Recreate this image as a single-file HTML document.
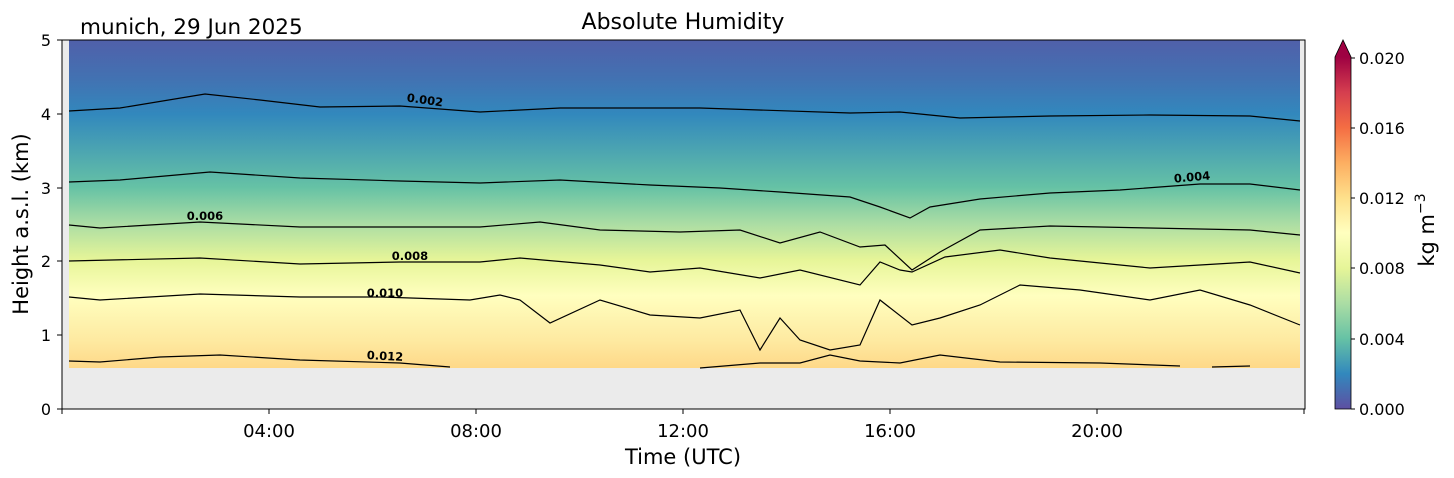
<!DOCTYPE html>
<html><head><meta charset="utf-8"><style>body{margin:0;background:#fff}svg{display:block;font-family:"DejaVu Sans","Liberation Sans",sans-serif}</style></head><body>
<svg width="1454" height="478" xmlns="http://www.w3.org/2000/svg">
<defs>
<linearGradient id="g" x1="0" y1="40" x2="0" y2="368" gradientUnits="userSpaceOnUse">
<stop offset="0" stop-color="#5060aa"/>
<stop offset="0.12" stop-color="#4272b2"/>
<stop offset="0.226" stop-color="#3288bd"/>
<stop offset="0.45" stop-color="#66c2a5"/>
<stop offset="0.56" stop-color="#abdda4"/>
<stop offset="0.67" stop-color="#e6f598"/>
<stop offset="0.78" stop-color="#ffffbf"/>
<stop offset="0.92" stop-color="#fee9a0"/>
<stop offset="1" stop-color="#fed888"/>
</linearGradient>
<linearGradient id="cb" x1="0" y1="409" x2="0" y2="57" gradientUnits="userSpaceOnUse">
<stop offset="0" stop-color="#5e4fa2"/><stop offset="0.1" stop-color="#3288bd"/><stop offset="0.2" stop-color="#66c2a5"/><stop offset="0.3" stop-color="#abdda4"/><stop offset="0.4" stop-color="#e6f598"/><stop offset="0.5" stop-color="#ffffbf"/><stop offset="0.6" stop-color="#fee08b"/><stop offset="0.7" stop-color="#fdae61"/><stop offset="0.8" stop-color="#f46d43"/><stop offset="0.9" stop-color="#d53e4f"/><stop offset="1" stop-color="#9e0142"/>
</linearGradient>
</defs>
<text x="683" y="29" font-size="22" text-anchor="middle">Absolute Humidity</text>
<text x="80" y="34" font-size="21.5">munich, 29 Jun 2025</text>
<rect x="62" y="40" width="1243" height="369" fill="#ebebeb"/>
<rect x="69" y="40" width="1231" height="328" fill="url(#g)"/>
<g fill="none" stroke="#000" stroke-width="1.2">
<polyline points="69,111 120,108 205,94 260,100 320,107 400,106 480,112 560,108 700,108 850,113 900,112 960,118 1050,116 1150,115 1250,116 1300,121"/>
<polyline points="69,182 120,180 210,172 300,178 400,181 480,183 560,180 650,185 720,188 780,192 850,197 880,207 910,218 930,207 980,199 1050,193 1120,190 1200,184 1250,184 1300,190"/>
<polyline points="69,225 100,228 200,222 300,227 400,227 480,227 540,222 600,230 680,232 740,230 780,243 820,232 860,247 885,245 912,270 940,252 980,230 1050,226 1150,228 1250,230 1300,235"/>
<polyline points="69,261 200,258 300,264 400,262 480,262 520,258 600,265 650,272 700,268 760,278 800,270 860,285 880,262 900,270 912,272 945,257 1000,250 1050,258 1150,268 1250,262 1300,273"/>
<polyline points="69,297 100,300 200,294 300,297 380,297 470,300 500,295 520,300 550,323 600,300 650,315 700,318 740,310 760,350 780,318 800,340 830,350 860,345 880,300 912,325 940,318 980,305 1020,285 1080,290 1150,300 1200,290 1250,305 1300,325"/>
<polyline points="69,361 100,362 160,357 220,355 300,360 400,363 450,367"/>
<polyline points="700,368 760,363 800,363 830,355 860,361 900,363 940,355 1000,362 1100,363 1180,366"/>
<polyline points="1212,367 1250,366" />
</g>
<g font-size="11.5" font-weight="bold">
<text x="425" y="104" text-anchor="middle" transform="rotate(8 425 100)">0.002</text>
<text x="1192" y="181" text-anchor="middle" transform="rotate(-5 1192 177)">0.004</text>
<text x="205" y="220" text-anchor="middle">0.006</text>
<text x="410" y="260" text-anchor="middle">0.008</text>
<text x="385" y="297" text-anchor="middle">0.010</text>
<text x="385" y="360" text-anchor="middle" transform="rotate(3 385 356)">0.012</text>
</g>
<rect x="62" y="40" width="1243" height="369" fill="none" stroke="#000" stroke-width="1"/>
<g stroke="#000">
<line x1="57" y1="409" x2="62" y2="409"/><line x1="57" y1="335" x2="62" y2="335"/><line x1="57" y1="261" x2="62" y2="261"/><line x1="57" y1="188" x2="62" y2="188"/><line x1="57" y1="114" x2="62" y2="114"/><line x1="57" y1="40" x2="62" y2="40"/>
<line x1="62" y1="409" x2="62" y2="414"/><line x1="269" y1="409" x2="269" y2="414"/><line x1="476" y1="409" x2="476" y2="414"/><line x1="683" y1="409" x2="683" y2="414"/><line x1="890" y1="409" x2="890" y2="414"/><line x1="1097" y1="409" x2="1097" y2="414"/><line x1="1304" y1="409" x2="1304" y2="414"/>
</g>
<g font-size="16" text-anchor="end">
<text x="51" y="415">0</text><text x="51" y="341">1</text><text x="51" y="267">2</text><text x="51" y="194">3</text><text x="51" y="120">4</text><text x="51" y="46">5</text>
</g>
<g font-size="18" text-anchor="middle">
<text x="269" y="437">04:00</text><text x="476" y="437">08:00</text><text x="683" y="437">12:00</text><text x="890" y="437">16:00</text><text x="1097" y="437">20:00</text>
</g>
<text x="683" y="464" font-size="21" text-anchor="middle">Time (UTC)</text>
<text transform="translate(28 224) rotate(-90)" font-size="21" text-anchor="middle">Height a.s.l. (km)</text>
<rect x="1335" y="57" width="16" height="352" fill="url(#cb)"/>
<polygon points="1335,57 1343,40 1351,57" fill="#9e0142"/>
<polygon points="1335,409 1335,57 1343,40 1351,57 1351,409" fill="none" stroke="#000" stroke-width="0.8"/>
<g stroke="#000"><line x1="1351" y1="409" x2="1355" y2="409"/><line x1="1351" y1="339" x2="1355" y2="339"/><line x1="1351" y1="268" x2="1355" y2="268"/><line x1="1351" y1="198" x2="1355" y2="198"/><line x1="1351" y1="128" x2="1355" y2="128"/><line x1="1351" y1="58" x2="1355" y2="58"/></g>
<g font-size="16">
<text x="1359" y="415">0.000</text><text x="1359" y="345">0.004</text><text x="1359" y="274">0.008</text><text x="1359" y="204">0.012</text><text x="1359" y="134">0.016</text><text x="1359" y="64">0.020</text>
</g>
<text transform="translate(1434 230) rotate(-90)" font-size="21" text-anchor="middle">kg m<tspan dy="-9" font-size="14">−3</tspan></text>
</svg>
</body></html>
